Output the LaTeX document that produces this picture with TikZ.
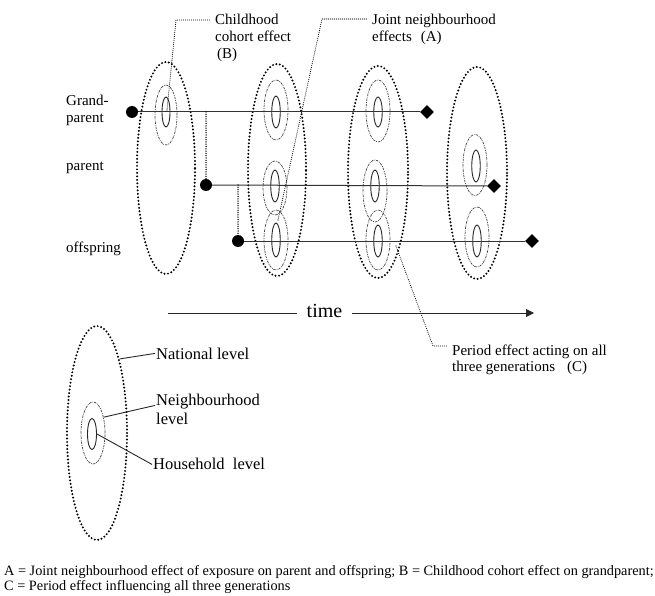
\documentclass[tikz,border=0pt]{standalone}
\usepackage{fontspec}
\setmainfont{Liberation Serif}
\usetikzlibrary{shapes.geometric,arrows.meta}
\begin{document}
\begin{tikzpicture}[x=1pt,y=-1pt,
  outer/.style={ellipse,inner sep=0pt,draw=black,line width=2.2pt,dash pattern=on 0pt off 3.5pt,line cap=round,minimum width=58pt,minimum height=212pt},
  hood/.style={ellipse,inner sep=0pt,draw=black!75,line width=0.7pt,dash pattern=on 2.5pt off 1pt on 0.8pt off 1pt,minimum width=24pt,minimum height=60pt},
  house/.style={ellipse,inner sep=0pt,draw=black!85,line width=0.9pt,minimum width=8.5pt,minimum height=32pt},
  gdot/.style={circle,fill=black,inner sep=0pt,minimum size=12pt},
  gend/.style={diamond,fill=black,inner sep=0pt,minimum size=14pt},
  timeline/.style={line width=1pt,draw=black!80},
  linkdots/.style={line width=1.5pt,dash pattern=on 0pt off 2.3pt,line cap=round},
  leader/.style={line width=1.1pt,dash pattern=on 0pt off 2pt,line cap=round},
  solidlead/.style={line width=0.9pt,draw=black!85},
  lbl/.style={inner sep=0pt,anchor=north west,align=left,font=\fontsize{15}{17}\selectfont},
  lblc/.style={inner sep=0pt,anchor=north west,align=left,font=\fontsize{15}{14.5}\selectfont},
  legendtxt/.style={inner sep=0pt,anchor=north west,align=left,font=\fontsize{16.5}{19}\selectfont},
  captxt/.style={inner sep=0pt,anchor=north west,align=left,font=\fontsize{14.3}{13.8}\selectfont}
]
\useasboundingbox (0,0) rectangle (655,596);

% outer (national) ellipses
\node[outer] (O1) at (166,168) {};
\node[outer] (O2) at (277,170) {};
\node[outer,minimum width=60pt] (O3) at (378,172) {};
\node[outer,minimum width=60pt] (O4) at (477,173) {};

% neighbourhood ellipses
\node[hood,minimum width=22pt] (H1g) at (166,115) {};
\node[hood] (H2g) at (276,110) {};
\node[hood,minimum height=54pt] (H2p) at (275,188) {};
\node[hood] (H2o) at (276,240) {};
\node[hood,minimum height=62pt] (H3g) at (378,111) {};
\node[hood,minimum height=62pt] (H3p) at (375,191) {};
\node[hood] (H3o) at (378,240) {};
\node[hood,minimum height=61pt] (H4p) at (475,165) {};
\node[hood] (H4o) at (477,237) {};

% household ellipses
\node[house,minimum width=8pt,minimum height=30pt] (S1g) at (166,112) {};
\node[house] (S2g) at (276,112) {};
\node[house] (S2p) at (275,186) {};
\node[house,minimum height=34pt] (S2o) at (276,240) {};
\node[house,minimum height=30pt] (S3g) at (378,112) {};
\node[house] (S3p) at (375,186) {};
\node[house] (S3o) at (378,241) {};
\node[house] (S4p) at (476,166) {};
\node[house] (S4o) at (477,241) {};

% generation start dots and end diamonds
\node[gdot] (dG) at (132,112) {};
\node[gdot] (dP) at (206,185) {};
\node[gdot] (dO) at (238,241) {};
\node[gend] (eG) at (427,112) {};
\node[gend] (eP) at (494,186) {};
\node[gend] (eO) at (532,241) {};

\draw[timeline] (dG) -- (eG);
\draw[timeline] (dP) -- (eP);
\draw[timeline] (dO) -- (eO);

\coordinate (vG) at (206,112);
\coordinate (vP) at (238,185);
\draw[linkdots] (vG) -- (dP);
\draw[linkdots] (vP) -- (dO);

% generation labels
\node[lbl] (tGP) at (66,93.1) {\strut Grand-\\parent};
\node[lbl] (tP) at (66,158.1) {\strut parent};
\node[lbl] (tO) at (66,240.1) {\strut offspring};

% effect labels and leaders
\node[lbl] (tB) at (215,12.1) {\strut Childhood\\cohort effect\\\hspace{2pt}(B)};
\node[lbl] (tA) at (372,12.1) {\strut Joint neighbourhood\\effects\hspace{9pt}(A)};
\node[lblc] (tC) at (452,344.9) {\strut Period effect acting on all\\three generations\hspace{12pt}(C)};

\coordinate (bP) at (167,110);
\coordinate (bK) at (176,20);
\draw[leader] (bP) -- (bK) -- ([xshift=-4pt]tB.west |- bK);
\coordinate (aP) at (278,220);
\coordinate (aK) at (322,19);
\draw[leader] (aP) -- (aK) -- ([xshift=-4pt]tA.west |- aK);
\coordinate (cP) at (396,246);
\coordinate (cK) at (433,346);
\draw[leader] (cP) -- (cK) -- ([xshift=-5pt]tC.west |- cK);

% time axis
\node[inner ysep=0pt,inner xsep=10pt,anchor=base,font=\fontsize{20}{24}\selectfont] (time) at (324.5,317) {time};
\coordinate (tL) at (168,313);
\coordinate (tR) at (534,313);
\draw[line width=0.9pt,draw=black!85] (tL) -- (tL -| time.west);
\draw[line width=0.9pt,draw=black!85,-{Triangle[length=8pt,width=8pt]}] (tR -| time.east) -- (tR);

% legend
\node[outer,minimum width=60pt,minimum height=214pt] (OL) at (97,433) {};
\node[hood,minimum height=62pt] (HL) at (93,433) {};
\node[house,minimum width=9pt,minimum height=31pt] (SL) at (92,434) {};
\node[legendtxt] (tNat) at (156,345.7) {\strut National level};
\node[legendtxt] (tNb) at (156,391.7) {\strut Neighbourhood\\level};
\node[legendtxt] (tHh) at (153,455.7) {\strut Household\ \ level};
\draw[solidlead] (OL.73) -- ([xshift=-1pt,yshift=2pt]tNat.west);
\draw[solidlead] (HL.56) -- ([xshift=-1pt,yshift=2.7pt]tNb.west);
\draw[solidlead] (SL.east) -- ([xshift=-1pt,yshift=1pt]tHh.west);

% caption
\node[captxt] (cap) at (4,565) {\strut A = Joint neighbourhood effect of exposure on parent and offspring; B = Childhood cohort effect on grandparent;\\C = Period effect influencing all three generations};
\end{tikzpicture}
\end{document}
